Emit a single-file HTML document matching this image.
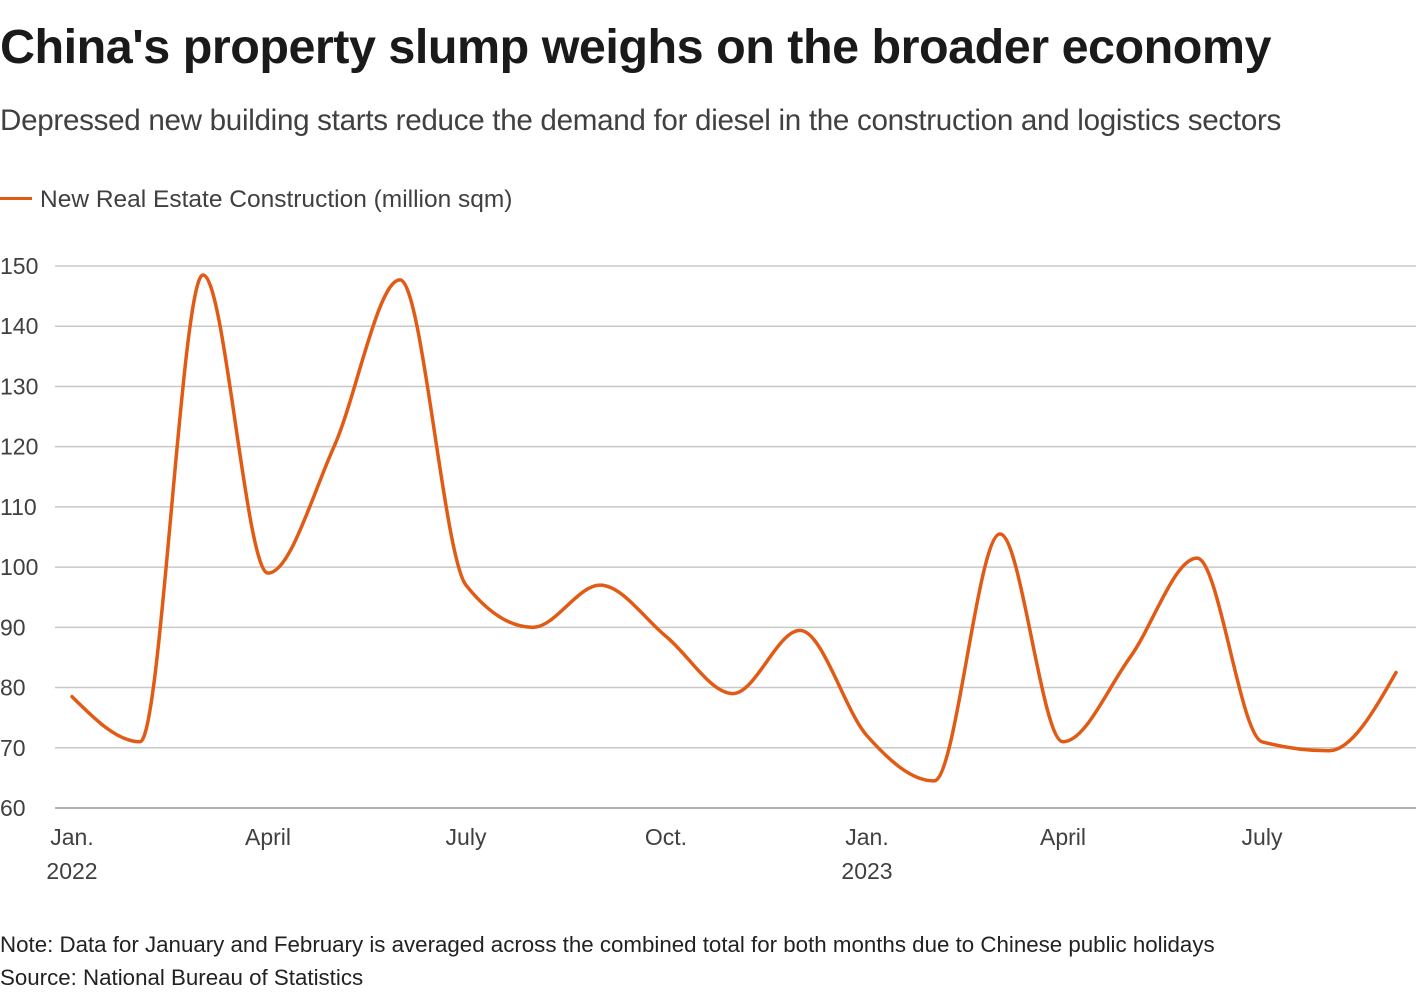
<!DOCTYPE html>
<html><head><meta charset="utf-8">
<style>
html,body{margin:0;padding:0;background:#fff;width:1420px;height:1000px;overflow:hidden;font-family:"Liberation Sans",sans-serif;}
.t{position:absolute;white-space:nowrap;}
</style></head><body>
<div class="t" style="left:0;top:19px;font-size:48.5px;font-weight:bold;color:#1a1a1a;letter-spacing:-0.5px">China's property slump weighs on the broader economy</div>
<div class="t" style="left:0;top:104px;font-size:29.6px;color:#404040;letter-spacing:-0.3px">Depressed new building starts reduce the demand for diesel in the construction and logistics sectors</div>
<div class="t" style="left:0;top:186px;font-size:24.5px;color:#404040"><span style="display:inline-block;width:32px;height:3px;background:#e15b15;vertical-align:middle;margin-right:8px;position:relative;top:-2px"></span>New Real Estate Construction (million sqm)</div>
<svg width="1420" height="1000" style="position:absolute;left:0;top:0" id="s">
<g stroke="#c8c8c8" stroke-width="1.5" id="g"></g>
<g font-family="Liberation Sans, sans-serif" font-size="23" fill="#404040" id="l"></g>
<path id="p" fill="none" stroke="#e15b15" stroke-width="3.5" stroke-linejoin="round" stroke-linecap="round"/>
</svg>
<div class="t" style="left:0;top:932px;font-size:22.3px;color:#222">Note: Data for January and February is averaged across the combined total for both months due to Chinese public holidays</div>
<div class="t" style="left:0;top:965px;font-size:22.3px;color:#222">Source: National Bureau of Statistics</div>
<script>
var ns="http://www.w3.org/2000/svg",g=document.getElementById('g'),l=document.getElementById('l');
function Y(v){return 808-(v-60)*542/90;}
for(var v=60;v<=150;v+=10){var ln=document.createElementNS(ns,'line');ln.setAttribute('x1',55);ln.setAttribute('x2',1416);ln.setAttribute('y1',Y(v));ln.setAttribute('y2',Y(v));if(v==60)ln.setAttribute('stroke','#999');g.appendChild(ln);
var t=document.createElementNS(ns,'text');t.setAttribute('x',0);t.setAttribute('y',Y(v)+8);t.textContent=v;l.appendChild(t);}
var xl=[[72,'Jan.','2022'],[268,'April'],[466,'July'],[666,'Oct.'],[867,'Jan.','2023'],[1063,'April'],[1262,'July']];
xl.forEach(function(a){var t=document.createElementNS(ns,'text');t.setAttribute('x',a[0]);t.setAttribute('y',845);t.setAttribute('text-anchor','middle');t.textContent=a[1];l.appendChild(t);
if(a[2]){t=document.createElementNS(ns,'text');t.setAttribute('x',a[0]);t.setAttribute('y',879);t.setAttribute('text-anchor','middle');t.textContent=a[2];l.appendChild(t);}});
var xs=[72,140,203,268,334,400,466,533,600,666,733,800,867,934,1000,1063,1130,1197,1262,1329,1396];
var vs=[78.5,71,148.5,99,120,147.7,97,90,97,88.5,79,89.5,72,64.5,105.5,71,85,101.5,71,69.5,82.5];
var ys=vs.map(Y),n=xs.length,m=[],s=[];
for(var i=0;i<n-1;i++)s.push((ys[i+1]-ys[i])/(xs[i+1]-xs[i]));
for(var i=1;i<n-1;i++){var h0=xs[i]-xs[i-1],h1=xs[i+1]-xs[i],s0=s[i-1],s1=s[i],p=(s0*h1+s1*h0)/(h0+h1);
m[i]=(Math.sign(s0)+Math.sign(s1))*Math.min(Math.abs(s0),Math.abs(s1),0.5*Math.abs(p))||0;}
m[0]=(3*s[0]-m[1])/2;m[n-1]=(3*s[n-2]-m[n-2])/2;
var d='M'+xs[0]+','+ys[0];
for(var i=0;i<n-1;i++){var dx=(xs[i+1]-xs[i])/3;
d+=' C'+(xs[i]+dx)+','+(ys[i]+dx*m[i])+' '+(xs[i+1]-dx)+','+(ys[i+1]-dx*m[i+1])+' '+xs[i+1]+','+ys[i+1];}
document.getElementById('p').setAttribute('d',d);
</script>
</body></html>
